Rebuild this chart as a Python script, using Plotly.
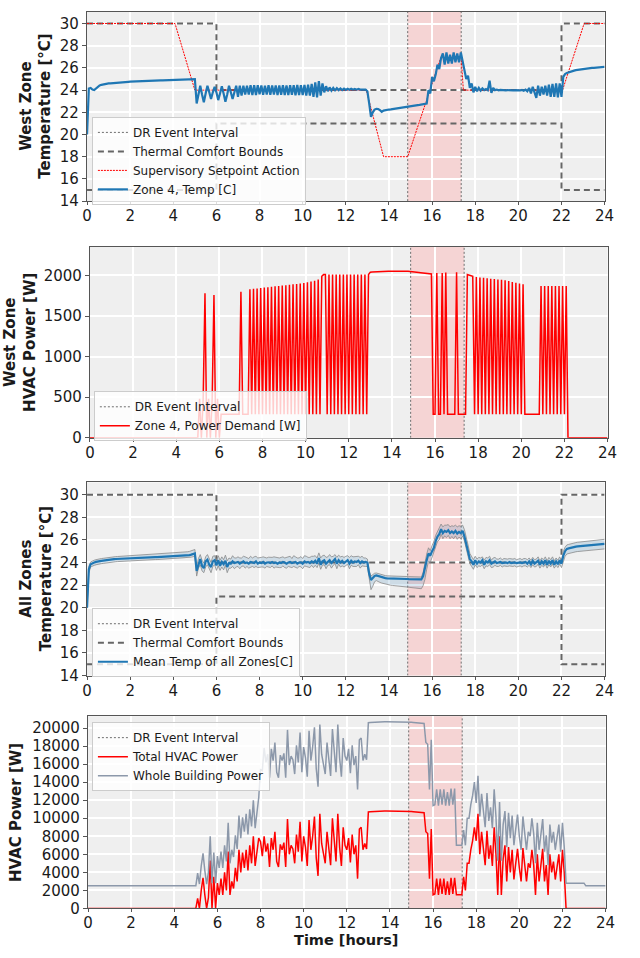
import numpy as np
import plotly.graph_objects as go

# ---------------------------------------------------------------------------
# Data: one simulated day at 5-minute resolution (12 samples per hour + 24:00)
# ---------------------------------------------------------------------------
STEPS_PER_HOUR = 12
time_h = np.arange(24 * STEPS_PER_HOUR + 1) / STEPS_PER_HOUR

# Demand-response event window [hours]
dr_start = 14.87
dr_end = 17.35

# Thermal comfort bounds [degC]
comfort_time = [0, 6, 6, 22, 22, 24]
comfort_upper = [30, 30, 24, 24, 30, 30]
comfort_lower = [15, 15, 21, 21, 15, 15]

# Supervisory setpoint action (breakpoints) [degC]
setpoint_time = [0, 4.08, 5.0, 12.95, 13.75, 14.87, 16.4, 17.35, 17.45, 22.05, 23.05, 24]
setpoint_value = [30, 30, 24, 24, 18, 18, 26.9, 26.9, 24, 24, 30, 30]

# West zone (zone 4) air temperature [degC], one row per hour
zone4_temp_rows = [
    [20.0, 24.15, 24.2, 24.05, 24.0, 24.15, 24.3, 24.42, 24.48, 24.52, 24.55, 24.58],
    [24.6, 24.61, 24.63, 24.64, 24.66, 24.67, 24.68, 24.7, 24.71, 24.72, 24.73, 24.75],
    [24.76, 24.77, 24.77, 24.78, 24.79, 24.8, 24.8, 24.81, 24.82, 24.82, 24.83, 24.84],
    [24.84, 24.85, 24.85, 24.86, 24.86, 24.87, 24.87, 24.88, 24.88, 24.89, 24.89, 24.9],
    [24.9, 24.91, 24.91, 24.92, 24.92, 24.93, 24.94, 24.94, 24.95, 24.96, 24.97, 24.98],
    [25.0, 22.8, 23.6, 24.4, 23.6, 22.9, 23.7, 24.4, 23.8, 23.2, 23.8, 24.3],
    [23.8, 23.1, 23.7, 24.35, 23.7, 22.95, 23.6, 24.4, 23.8, 23.2, 23.8, 24.4],
    [23.4, 24.4, 23.5, 24.4, 23.6, 24.4, 23.6, 24.45, 23.55, 24.45, 23.55, 24.45],
    [23.62, 24.42, 23.58, 24.4, 23.6, 24.44, 23.57, 24.41, 23.6, 24.43, 23.56, 24.42],
    [23.58, 24.44, 23.56, 24.43, 23.55, 24.45, 23.57, 24.44, 23.54, 24.46, 23.55, 24.45],
    [23.55, 24.47, 23.52, 24.5, 23.5, 24.55, 23.4, 24.7, 23.35, 24.8, 23.5, 24.6],
    [23.8, 24.35, 23.9, 24.25, 23.95, 24.2, 23.98, 24.17, 24.0, 24.15, 24.0, 24.14],
    [24.02, 24.12, 24.03, 24.12, 24.04, 24.1, 24.04, 24.1, 24.05, 24.08, 24.05, 24.05],
    [23.9, 22.8, 21.6, 22.0, 22.25, 22.32, 22.3, 22.2, 22.05, 22.15, 22.2, 22.22],
    [22.25, 22.27, 22.3, 22.32, 22.35, 22.37, 22.4, 22.42, 22.45, 22.47, 22.5, 22.52],
    [22.55, 22.58, 22.6, 22.62, 22.65, 22.67, 22.7, 22.72, 22.74, 22.78, 24.0, 23.7],
    [25.2, 24.8, 25.4, 26.3, 25.9, 26.9, 27.3, 26.3, 27.4, 26.4, 27.2, 26.4],
    [27.4, 26.5, 27.3, 26.5, 27.4, 26.6, 26.0, 25.0, 25.3, 24.2, 24.6, 23.8],
    [24.3, 23.9, 24.2, 23.95, 24.15, 24.0, 24.1, 24.0, 24.85, 23.75, 24.2, 24.0],
    [24.05, 23.98, 24.02, 23.99, 24.01, 23.98, 24.0, 23.98, 24.01, 23.97, 24.0, 23.98],
    [24.0, 23.97, 24.02, 23.95, 24.05, 23.9, 24.2, 23.7, 24.3, 23.8, 23.3, 24.4],
    [23.5, 24.3, 23.6, 24.4, 23.5, 24.5, 23.4, 24.55, 23.4, 24.6, 23.35, 24.6],
    [23.4, 25.2, 25.45, 25.55, 25.62, 25.68, 25.72, 25.76, 25.8, 25.83, 25.86, 25.88],
    [25.9, 25.92, 25.94, 25.96, 25.98, 26.0, 26.01, 26.02, 26.04, 26.05, 26.06, 26.08],
]
zone4_temp_end = 26.1

# West zone (zone 4) HVAC power demand [W]
zone4_power_rows = [
    [0, 0, 0, 0, 0, 0, 0, 0, 0, 0, 0, 0],
    [0, 0, 0, 0, 0, 0, 0, 0, 0, 0, 0, 0],
    [0, 0, 0, 0, 0, 0, 0, 0, 0, 0, 0, 0],
    [0, 0, 0, 0, 0, 0, 0, 0, 0, 0, 0, 0],
    [0, 0, 0, 0, 0, 0, 0, 0, 0, 0, 0, 0],
    [0, 480, 0, 480, 1780, 0, 480, 0, 480, 1760, 0, 480],
    [0, 290, 290, 290, 290, 290, 290, 290, 290, 290, 290, 290],
    [1800, 290, 290, 290, 290, 1830, 290, 1835, 290, 1840, 290, 1845],
    [290, 1850, 290, 1855, 290, 1860, 290, 1865, 290, 1870, 290, 1875],
    [290, 1880, 290, 1885, 290, 1890, 290, 1895, 290, 1900, 290, 1905],
    [290, 1915, 290, 1925, 290, 1935, 290, 1950, 290, 1990, 2010, 2010],
    [290, 2010, 290, 2010, 290, 2010, 290, 2010, 290, 2010, 290, 2010],
    [290, 2010, 290, 2010, 290, 2010, 290, 2010, 290, 2010, 290, 2010],
    [2040, 2042, 2044, 2045, 2046, 2047, 2048, 2049, 2050, 2050, 2051, 2051],
    [2052, 2052, 2053, 2053, 2053, 2053, 2053, 2052, 2052, 2051, 2050, 2048],
    [2045, 2042, 2039, 2036, 2033, 2030, 2027, 2024, 2022, 2020, 2018, 290],
    [290, 2030, 290, 290, 2030, 290, 2035, 290, 290, 290, 290, 290],
    [2040, 290, 290, 290, 290, 290, 2010, 2005, 2000, 1990, 290, 1980],
    [290, 1975, 290, 1970, 290, 1965, 290, 1960, 290, 1955, 290, 1950],
    [290, 1945, 290, 1940, 290, 1930, 290, 1920, 290, 1910, 290, 1900],
    [290, 1890, 290, 290, 290, 290, 290, 290, 290, 290, 290, 1870],
    [290, 1870, 290, 1870, 290, 1870, 290, 1870, 290, 1870, 290, 1870],
    [290, 1870, 0, 0, 0, 0, 0, 0, 0, 0, 0, 0],
    [0, 0, 0, 0, 0, 0, 0, 0, 0, 0, 0, 0],
]
zone4_power_end = 0

# Mean temperature of all zones [degC]
mean_temp_rows = [
    [20.0, 23.4, 23.85, 23.95, 24.0, 24.05, 24.1, 24.12, 24.15, 24.17, 24.2, 24.22],
    [24.24, 24.26, 24.28, 24.3, 24.31, 24.32, 24.33, 24.34, 24.35, 24.36, 24.37, 24.38],
    [24.39, 24.4, 24.41, 24.42, 24.42, 24.43, 24.44, 24.44, 24.45, 24.45, 24.46, 24.46],
    [24.47, 24.47, 24.48, 24.48, 24.49, 24.49, 24.5, 24.5, 24.51, 24.51, 24.52, 24.52],
    [24.53, 24.54, 24.55, 24.56, 24.57, 24.58, 24.6, 24.62, 24.64, 24.66, 24.7, 24.75],
    [24.8, 23.25, 23.9, 24.3, 23.7, 23.5, 24.1, 24.25, 23.8, 23.6, 24.1, 24.2],
    [23.75, 24.2, 23.7, 24.05, 23.85, 24.15, 23.6, 23.95, 23.9, 24.1, 23.95, 24.0],
    [24.05, 23.9, 24.0, 24.1, 23.95, 24.0, 23.9, 24.05, 24.0, 23.95, 24.1, 23.9],
    [24.0, 23.95, 24.05, 23.9, 24.0, 24.02, 23.95, 24.05, 23.95, 24.0, 23.9, 24.0],
    [23.95, 24.05, 24.0, 23.9, 24.0, 24.05, 23.95, 24.0, 24.05, 23.9, 24.0, 24.02],
    [23.9, 24.1, 24.0, 24.05, 23.95, 24.1, 24.0, 24.15, 23.9, 24.4, 23.8, 24.1],
    [24.2, 23.9, 24.1, 24.2, 23.95, 24.1, 24.3, 23.9, 24.2, 24.0, 24.15, 23.95],
    [24.1, 24.2, 23.9, 24.15, 24.0, 24.1, 24.05, 24.15, 23.95, 24.1, 24.0, 24.05],
    [24.0, 23.0, 22.45, 22.6, 22.8, 22.85, 22.8, 22.72, 22.68, 22.65, 22.62, 22.6],
    [22.6, 22.59, 22.58, 22.58, 22.57, 22.56, 22.56, 22.55, 22.55, 22.54, 22.54, 22.53],
    [22.53, 22.52, 22.52, 22.51, 22.51, 22.5, 22.5, 22.8, 23.6, 24.2, 24.8, 24.6],
    [25.0, 25.3, 25.9, 26.3, 26.5, 26.95, 26.6, 26.8, 26.7, 26.85, 26.6, 26.75],
    [26.6, 26.8, 26.55, 26.7, 26.6, 26.8, 26.3, 25.6, 24.9, 24.3, 24.1, 23.8],
    [24.2, 23.9, 24.1, 24.0, 24.2, 23.8, 24.1, 24.0, 24.2, 23.9, 24.0, 24.1],
    [23.95, 24.0, 24.05, 23.95, 24.0, 24.0, 23.95, 24.05, 23.95, 24.0, 24.0, 23.95],
    [24.0, 24.0, 23.95, 24.0, 24.05, 23.9, 24.1, 23.85, 24.15, 23.9, 24.0, 24.15],
    [23.8, 24.1, 23.9, 24.2, 23.8, 24.15, 23.9, 24.2, 23.8, 24.1, 23.85, 24.2],
    [23.9, 24.6, 25.0, 25.2, 25.25, 25.3, 25.35, 25.38, 25.4, 25.42, 25.44, 25.46],
    [25.48, 25.5, 25.52, 25.53, 25.54, 25.55, 25.56, 25.58, 25.6, 25.61, 25.62, 25.63],
]
mean_temp_end = 25.65

# Spread of zone temperatures around the mean: distance to warmest / coldest zone [degC]
spread_above_rows = [
    [0.05, 0.25, 0.2, 0.2, 0.2, 0.2, 0.2, 0.2, 0.2, 0.2, 0.2, 0.2],
    [0.2, 0.2, 0.2, 0.21, 0.21, 0.21, 0.21, 0.22, 0.22, 0.22, 0.22, 0.22],
    [0.23, 0.23, 0.23, 0.23, 0.24, 0.24, 0.24, 0.24, 0.25, 0.25, 0.25, 0.25],
    [0.26, 0.26, 0.26, 0.26, 0.27, 0.27, 0.27, 0.27, 0.28, 0.28, 0.28, 0.28],
    [0.29, 0.29, 0.29, 0.3, 0.3, 0.3, 0.3, 0.31, 0.31, 0.32, 0.32, 0.33],
    [0.35, 0.4, 0.45, 0.4, 0.5, 0.45, 0.4, 0.45, 0.5, 0.4, 0.45, 0.4],
    [0.45, 0.4, 0.5, 0.45, 0.4, 0.5, 0.55, 0.45, 0.4, 0.5, 0.45, 0.4],
    [0.45, 0.5, 0.4, 0.45, 0.55, 0.4, 0.45, 0.5, 0.4, 0.55, 0.45, 0.5],
    [0.4, 0.5, 0.45, 0.55, 0.4, 0.45, 0.5, 0.4, 0.55, 0.45, 0.5, 0.4],
    [0.5, 0.45, 0.4, 0.55, 0.45, 0.5, 0.4, 0.6, 0.45, 0.5, 0.4, 0.5],
    [0.45, 0.5, 0.55, 0.4, 0.5, 0.45, 0.55, 0.45, 0.5, 0.45, 0.6, 0.5],
    [0.45, 0.55, 0.4, 0.5, 0.55, 0.45, 0.4, 0.55, 0.45, 0.5, 0.4, 0.5],
    [0.45, 0.4, 0.55, 0.45, 0.5, 0.4, 0.45, 0.4, 0.5, 0.45, 0.4, 0.35],
    [0.3, 0.3, 0.35, 0.3, 0.25, 0.22, 0.22, 0.22, 0.22, 0.22, 0.22, 0.22],
    [0.22, 0.22, 0.22, 0.22, 0.22, 0.22, 0.22, 0.22, 0.22, 0.22, 0.22, 0.22],
    [0.22, 0.22, 0.22, 0.22, 0.22, 0.22, 0.22, 0.3, 0.5, 0.55, 0.5, 0.45],
    [0.5, 0.55, 0.5, 0.45, 0.5, 0.45, 0.55, 0.5, 0.6, 0.5, 0.55, 0.5],
    [0.6, 0.5, 0.6, 0.55, 0.6, 0.5, 0.6, 0.7, 0.65, 0.5, 0.45, 0.45],
    [0.35, 0.4, 0.35, 0.4, 0.3, 0.4, 0.35, 0.4, 0.35, 0.3, 0.4, 0.35],
    [0.35, 0.3, 0.35, 0.3, 0.35, 0.3, 0.35, 0.3, 0.35, 0.3, 0.35, 0.3],
    [0.3, 0.35, 0.3, 0.35, 0.3, 0.35, 0.3, 0.35, 0.3, 0.35, 0.3, 0.35],
    [0.35, 0.3, 0.35, 0.3, 0.35, 0.3, 0.35, 0.3, 0.35, 0.3, 0.35, 0.3],
    [0.3, 0.35, 0.35, 0.35, 0.35, 0.35, 0.36, 0.36, 0.36, 0.37, 0.37, 0.37],
    [0.37, 0.38, 0.38, 0.38, 0.38, 0.39, 0.39, 0.39, 0.39, 0.4, 0.4, 0.4],
]
spread_above_end = 0.4

spread_below_rows = [
    [0.05, 0.35, 0.25, 0.25, 0.25, 0.25, 0.25, 0.25, 0.25, 0.25, 0.25, 0.25],
    [0.25, 0.25, 0.24, 0.24, 0.24, 0.24, 0.24, 0.24, 0.23, 0.23, 0.23, 0.23],
    [0.23, 0.23, 0.22, 0.22, 0.22, 0.22, 0.22, 0.22, 0.22, 0.22, 0.22, 0.22],
    [0.22, 0.22, 0.22, 0.22, 0.22, 0.22, 0.22, 0.22, 0.22, 0.22, 0.22, 0.22],
    [0.22, 0.22, 0.22, 0.22, 0.22, 0.22, 0.22, 0.22, 0.22, 0.22, 0.23, 0.24],
    [0.25, 0.45, 0.4, 0.5, 0.45, 0.4, 0.5, 0.45, 0.4, 0.5, 0.45, 0.4],
    [0.45, 0.5, 0.4, 0.45, 0.5, 0.4, 0.5, 0.45, 0.4, 0.45, 0.5, 0.4],
    [0.4, 0.45, 0.35, 0.4, 0.45, 0.35, 0.4, 0.45, 0.35, 0.4, 0.45, 0.35],
    [0.4, 0.35, 0.45, 0.4, 0.35, 0.45, 0.4, 0.35, 0.45, 0.4, 0.35, 0.45],
    [0.4, 0.35, 0.45, 0.4, 0.35, 0.45, 0.4, 0.35, 0.45, 0.4, 0.35, 0.4],
    [0.45, 0.4, 0.35, 0.45, 0.4, 0.35, 0.45, 0.4, 0.35, 0.45, 0.4, 0.35],
    [0.4, 0.45, 0.35, 0.4, 0.45, 0.35, 0.4, 0.45, 0.35, 0.4, 0.45, 0.35],
    [0.4, 0.35, 0.45, 0.4, 0.35, 0.45, 0.4, 0.35, 0.45, 0.4, 0.35, 0.4],
    [0.35, 0.6, 0.85, 0.7, 0.5, 0.45, 0.45, 0.48, 0.5, 0.52, 0.55, 0.57],
    [0.58, 0.6, 0.61, 0.62, 0.63, 0.64, 0.66, 0.67, 0.68, 0.7, 0.71, 0.72],
    [0.73, 0.75, 0.76, 0.77, 0.78, 0.8, 0.82, 0.85, 1.1, 0.8, 0.7, 0.6],
    [0.55, 0.5, 0.5, 0.45, 0.5, 0.45, 0.5, 0.45, 0.5, 0.45, 0.5, 0.45],
    [0.5, 0.45, 0.5, 0.45, 0.5, 0.45, 0.4, 0.35, 0.35, 0.4, 0.45, 0.4],
    [0.4, 0.35, 0.4, 0.35, 0.4, 0.35, 0.4, 0.35, 0.4, 0.35, 0.4, 0.35],
    [0.3, 0.35, 0.3, 0.35, 0.3, 0.35, 0.3, 0.35, 0.3, 0.35, 0.3, 0.35],
    [0.35, 0.3, 0.35, 0.3, 0.35, 0.3, 0.35, 0.3, 0.35, 0.3, 0.35, 0.3],
    [0.3, 0.35, 0.3, 0.35, 0.3, 0.35, 0.3, 0.35, 0.3, 0.35, 0.3, 0.35],
    [0.35, 0.45, 0.45, 0.45, 0.45, 0.45, 0.45, 0.45, 0.45, 0.45, 0.45, 0.45],
    [0.45, 0.45, 0.45, 0.45, 0.45, 0.45, 0.45, 0.45, 0.45, 0.45, 0.45, 0.45],
]
spread_below_end = 0.45

# Total HVAC power of the building [W]
hvac_power_rows = [
    [0, 0, 0, 0, 0, 0, 0, 0, 0, 0, 0, 0],
    [0, 0, 0, 0, 0, 0, 0, 0, 0, 0, 0, 0],
    [0, 0, 0, 0, 0, 0, 0, 0, 0, 0, 0, 0],
    [0, 0, 0, 0, 0, 0, 0, 0, 0, 0, 0, 0],
    [0, 0, 0, 0, 0, 0, 0, 0, 0, 0, 0, 0],
    [0, 1100, 0, 2000, 3400, 1500, 0, 1200, 5300, 0, 3500, 0],
    [2800, 1500, 3300, 1500, 4000, 2000, 6300, 1500, 3000, 2200, 4500, 3000],
    [6500, 4000, 6200, 4500, 6500, 4200, 7000, 5000, 8000, 4700, 6200, 7800],
    [7400, 5800, 8000, 6300, 7200, 4600, 7800, 6500, 8500, 5200, 4600, 7100],
    [6500, 7300, 4600, 9900, 6000, 7000, 6600, 5000, 8200, 6300, 9600, 5200],
    [8000, 6800, 4700, 9800, 6500, 8000, 10200, 5600, 3600, 10500, 7200, 6000],
    [5000, 8500, 6200, 4800, 10000, 7500, 5200, 10500, 6800, 4700, 9000, 7000],
    [6500, 7800, 5100, 8200, 6000, 7000, 3300, 8800, 9000, 6500, 7200, 6600],
    [10700, 10720, 10740, 10750, 10760, 10770, 10780, 10790, 10790, 10800, 10800, 10800],
    [10800, 10810, 10810, 10820, 10820, 10820, 10810, 10800, 10790, 10780, 10770, 10760],
    [10750, 10730, 10720, 10700, 10680, 10660, 10640, 10620, 8500, 8300, 3300, 8800],
    [1500, 1600, 3300, 1500, 3300, 1600, 3300, 1500, 3000, 1500, 3400, 1600],
    [3400, 1500, 1500, 1500, 1500, 3500, 2000, 5000, 5000, 6500, 7500, 9000],
    [7500, 10500, 6000, 8500, 6500, 4800, 8600, 5500, 7000, 4700, 9000, 6000],
    [1500, 8000, 1500, 5500, 7000, 3000, 6800, 4000, 6500, 3200, 5000, 6600],
    [4500, 3000, 6700, 4800, 3000, 5000, 4500, 6500, 4800, 1500, 6000, 3000],
    [5200, 6600, 3000, 4800, 1500, 6000, 4000, 5200, 3200, 4600, 6000, 3000],
    [6500, 4000, 0, 0, 0, 0, 0, 0, 0, 0, 0, 0],
    [0, 0, 0, 0, 0, 0, 0, 0, 0, 0, 0, 0],
]
hvac_power_end = 0

# Non-HVAC building loads (lighting, plug loads, ...) [W]
other_load_rows = [
    [2500, 2500, 2500, 2500, 2500, 2500, 2500, 2500, 2500, 2500, 2500, 2500],
    [2500, 2500, 2500, 2500, 2500, 2500, 2500, 2500, 2500, 2500, 2500, 2500],
    [2500, 2500, 2500, 2500, 2500, 2500, 2500, 2500, 2500, 2500, 2500, 2500],
    [2500, 2500, 2500, 2500, 2500, 2500, 2500, 2500, 2500, 2500, 2500, 2500],
    [2500, 2500, 2500, 2500, 2500, 2500, 2500, 2500, 2500, 2500, 2500, 2500],
    [2500, 2800, 2700, 2700, 2700, 2700, 2700, 2800, 2700, 2800, 2700, 2800],
    [3000, 3000, 3000, 3000, 3000, 3200, 3200, 3500, 3500, 3500, 3600, 3600],
    [3800, 3800, 3900, 4000, 4000, 4000, 4000, 4100, 4000, 4200, 4200, 4500],
    [8000, 9500, 9800, 9900, 9900, 9900, 9900, 9900, 9900, 9900, 9900, 9900],
    [9900, 9900, 9900, 9900, 9900, 9900, 9900, 9900, 9900, 9900, 9900, 9900],
    [9900, 9900, 9900, 9900, 9900, 9900, 9900, 9900, 9900, 9900, 9900, 9900],
    [9900, 9900, 9900, 9900, 9900, 9900, 9900, 9900, 9900, 9900, 9900, 9900],
    [9900, 9900, 9900, 9900, 9900, 9900, 9900, 9900, 9900, 9900, 9900, 9900],
    [9900, 9900, 9900, 9900, 9900, 9900, 9900, 9900, 9900, 9900, 9900, 9900],
    [9900, 9900, 9900, 9900, 9900, 9900, 9900, 9900, 9900, 9900, 9900, 9900],
    [9900, 9900, 9900, 9900, 9900, 9900, 9900, 9900, 9900, 9900, 9900, 9900],
    [9900, 9900, 9900, 9900, 9900, 9900, 9900, 9900, 9900, 9900, 9900, 9900],
    [9900, 5500, 5500, 5500, 5500, 5200, 5000, 5000, 5000, 5000, 5000, 5000],
    [4200, 4200, 4200, 4200, 4200, 4200, 4200, 4200, 4200, 4200, 4200, 4200],
    [3800, 3800, 3800, 3800, 3800, 3800, 3800, 3800, 3800, 3800, 3800, 3800],
    [3500, 3500, 3500, 3500, 3500, 3500, 3500, 3500, 3500, 3500, 3500, 3500],
    [3300, 3300, 3300, 3300, 3300, 3300, 3300, 3300, 3300, 3300, 3300, 3300],
    [3000, 2800, 2800, 2800, 2800, 2800, 2800, 2800, 2800, 2800, 2800, 2800],
    [2800, 2500, 2500, 2500, 2500, 2500, 2500, 2500, 2500, 2500, 2500, 2500],
]
other_load_end = 2500

# Axis ticks
hour_ticks = list(range(0, 25, 2))
temp_ticks = list(range(14, 31, 2))
zone_power_ticks = [0, 500, 1000, 1500, 2000]
building_power_ticks = list(range(0, 20001, 2000))


def day_series(rows, last):
    values = [v for row in rows for v in row] + [last]
    assert len(values) == len(time_h)
    return np.array(values, dtype=float)


zone4_temp = day_series(zone4_temp_rows, zone4_temp_end)
zone4_power = day_series(zone4_power_rows, zone4_power_end)
mean_temp = day_series(mean_temp_rows, mean_temp_end)
temp_max = mean_temp + day_series(spread_above_rows, spread_above_end)
temp_min = mean_temp - day_series(spread_below_rows, spread_below_end)
hvac_power = day_series(hvac_power_rows, hvac_power_end)
building_power = hvac_power + day_series(other_load_rows, other_load_end)

# ---------------------------------------------------------------------------
# Styling
# ---------------------------------------------------------------------------
FONT = "DejaVu Sans"
W, H = 640, 958
BG = "#EFEFEF"
SPINE = "#555555"
DR_FILL = "#F5D4D4"
DR_LINE = "#6E6E6E"
BOUND = "#666666"
BLUE = "#1F77B4"
RED = "#FF0000"
SLATE = "#8C98AA"
TEXT = "#1A1A1A"

y_ranges = {1: [14, 31.05], 2: [0, 2354], 3: [14, 31.08], 4: [0, 21320]}
# plot-area pixel boxes: (left, right, top, bottom)
boxes = {1: (84, 614, 12, 203), 2: (87, 617, 249, 442),
         3: (84, 614, 487, 682), 4: (85, 615, 723, 917)}


def ax_id(k):
    return "" if k == 1 else str(k)


fig = go.Figure()


def add_dr_lines(k, legend):
    lo, hi = y_ranges[k]
    fig.add_trace(go.Scatter(
        x=[dr_start, dr_start, None, dr_end, dr_end], y=[lo, hi, None, lo, hi],
        mode="lines", line=dict(color=DR_LINE, width=1, dash="2px,2px"),
        name="DR Event Interval", legend=legend,
        xaxis="x" + ax_id(k), yaxis="y" + ax_id(k), hoverinfo="skip"))


def add_comfort(k, legend):
    fig.add_trace(go.Scatter(
        x=comfort_time, y=comfort_upper, mode="lines",
        line=dict(color=BOUND, width=2, dash="6px,4px"),
        name="Thermal Comfort Bounds", legend=legend, legendgroup=f"cb{k}",
        xaxis="x" + ax_id(k), yaxis="y" + ax_id(k)))
    fig.add_trace(go.Scatter(
        x=comfort_time, y=comfort_lower, mode="lines",
        line=dict(color=BOUND, width=2, dash="6px,4px"),
        name="Thermal Comfort Bounds", legend=legend, legendgroup=f"cb{k}",
        showlegend=False, xaxis="x" + ax_id(k), yaxis="y" + ax_id(k)))


# Panel 1: west zone temperature
add_dr_lines(1, "legend")
add_comfort(1, "legend")
fig.add_trace(go.Scatter(
    x=setpoint_time, y=setpoint_value, mode="lines",
    line=dict(color=RED, width=1, dash="2px,1px"),
    name="Supervisory Setpoint Action", legend="legend", xaxis="x", yaxis="y"))
fig.add_trace(go.Scatter(
    x=time_h, y=zone4_temp, mode="lines", line=dict(color=BLUE, width=2.2),
    name="Zone 4, Temp [C]", legend="legend", xaxis="x", yaxis="y"))

# Panel 2: west zone HVAC power
add_dr_lines(2, "legend2")
fig.add_trace(go.Scatter(
    x=time_h, y=zone4_power, mode="lines", line=dict(color=RED, width=1.5),
    name="Zone 4, Power Demand [W]", legend="legend2", xaxis="x2", yaxis="y2"))

# Panel 3: all zones temperature (band between coldest and warmest zone)
add_dr_lines(3, "legend3")
add_comfort(3, "legend3")
fig.add_trace(go.Scatter(
    x=np.concatenate([time_h, time_h[::-1]]),
    y=np.concatenate([temp_max, temp_min[::-1]]),
    mode="lines", fill="toself", fillcolor="rgba(31,119,180,0.16)",
    line=dict(color="rgba(0,0,0,0)", width=0),
    showlegend=False, legend="legend3", xaxis="x3", yaxis="y3", hoverinfo="skip"))
for edge in (temp_min, temp_max):
    fig.add_trace(go.Scatter(
        x=time_h, y=edge, mode="lines", line=dict(color="#8A8A8A", width=0.8),
        showlegend=False, legend="legend3", xaxis="x3", yaxis="y3", hoverinfo="skip"))
fig.add_trace(go.Scatter(
    x=time_h, y=mean_temp, mode="lines", line=dict(color=BLUE, width=2.2),
    name="Mean Temp of all Zones[C]", legend="legend3", xaxis="x3", yaxis="y3"))

# Panel 4: building power
add_dr_lines(4, "legend4")
fig.add_trace(go.Scatter(
    x=time_h, y=hvac_power, mode="lines", line=dict(color=RED, width=1.5),
    name="Total HVAC Power", legend="legend4", xaxis="x4", yaxis="y4"))
fig.add_trace(go.Scatter(
    x=time_h, y=building_power, mode="lines", line=dict(color=SLATE, width=1.5),
    name="Whole Building Power", legend="legend4", xaxis="x4", yaxis="y4"))

layout = dict(
    width=W, height=H, margin=dict(l=0, r=0, t=0, b=0),
    paper_bgcolor="white", plot_bgcolor=BG,
    font=dict(family=FONT, size=14, color=TEXT),
    hovermode=False,
)

axis_common = dict(
    showgrid=True, gridcolor="white", gridwidth=1.5, zeroline=False,
    showline=True, mirror=True, linecolor=SPINE, linewidth=1.2,
    ticks="outside", ticklen=4, tickwidth=1, tickcolor=SPINE,
    tickfont=dict(family=FONT, size=15, color=TEXT), tickformat="d",
)

y_ticks = {1: temp_ticks, 2: zone_power_ticks, 3: temp_ticks, 4: building_power_ticks}
shapes = []
for k in (1, 2, 3, 4):
    left, right, top, bottom = boxes[k]
    s = ax_id(k)
    layout[f"xaxis{s}"] = dict(axis_common, domain=[left / W, right / W],
                               anchor="y" + s, range=[0, 24], tickvals=hour_ticks,
                               ticklen=3, ticklabelstandoff=-2)
    layout[f"yaxis{s}"] = dict(axis_common, domain=[1 - bottom / H, 1 - top / H],
                               anchor="x" + s, range=y_ranges[k], tickvals=y_ticks[k])
    shapes.append(dict(type="rect", xref="x" + s, yref=f"y{s} domain",
                       x0=dr_start, x1=dr_end, y0=0, y1=1,
                       fillcolor=DR_FILL, line=dict(width=0), layer="below"))
layout["shapes"] = shapes

legend_common = dict(
    bgcolor="rgba(255,255,255,0.8)", bordercolor="#CCCCCC", borderwidth=1,
    font=dict(family=FONT, size=12, color=TEXT),
    xanchor="left", yanchor="top", tracegroupgap=0, itemwidth=30,
)
legend_pos = {"legend": (89, 118), "legend2": (91, 395),
              "legend3": (89, 614), "legend4": (89, 729)}
for name, (px, py) in legend_pos.items():
    layout[name] = dict(legend_common, x=px / W, y=1 - py / H)

# Axis titles
title_font = dict(family=FONT, size=15, color=TEXT)
y_titles = [
    ("West Zone<br>Temperature [°C]", 32, (12 + 203) / 2),
    ("West Zone<br>HVAC Power [W]", 16, (249 + 442) / 2),
    ("All Zones<br>Temperature [°C]", 32, (487 + 682) / 2),
    ("HVAC Power [W]", 12, (723 + 917) / 2),
]
annotations = []
for text, px, py in y_titles:
    annotations.append(dict(text=f"<b>{text}</b>", x=px / W, y=1 - py / H,
                            xref="paper", yref="paper", xanchor="center",
                            yanchor="middle", textangle=-90, showarrow=False,
                            font=title_font))
annotations.append(dict(text="<b>Time [hours]</b>", x=350 / W, y=0,
                        xref="paper", yref="paper", xanchor="center",
                        yanchor="bottom", showarrow=False, borderpad=0,
                        font=dict(family=FONT, size=14.5, color=TEXT)))
layout["annotations"] = annotations

fig.update_layout(layout)
fig.write_html("out.html")
